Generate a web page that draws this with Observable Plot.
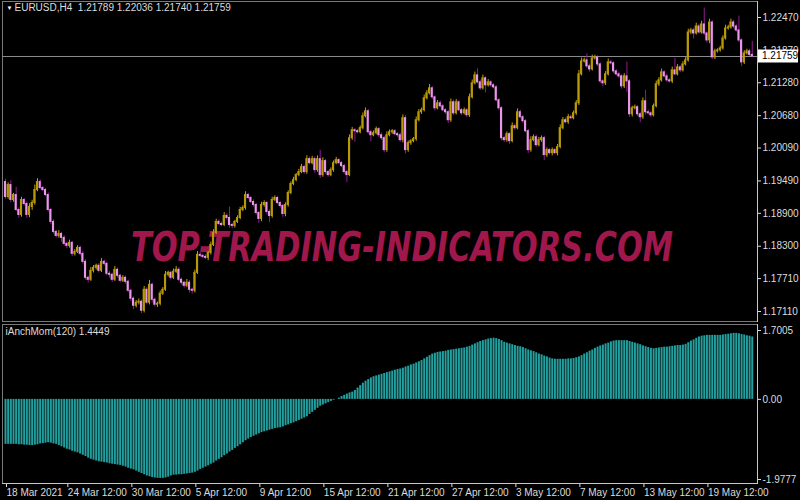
<!DOCTYPE html>
<html><head><meta charset="utf-8">
<script src="https://cdn.jsdelivr.net/npm/d3@7"></script>
<script src="https://cdn.jsdelivr.net/npm/@observablehq/plot@0.6"></script>
<style>
html,body{margin:0;padding:0;background:#000;width:800px;height:500px;overflow:hidden}
#chart{position:relative;width:800px;height:500px;background:#000}
#chart svg{position:absolute;left:0}
</style></head><body><div id="chart"></div>
<script>
// ---------- data ----------
const symbol = "EURUSD,H4";
const lastOHLC = [1.21789, 1.22036, 1.21740, 1.21759];
const firstOpen = 1.19470;
const closes = [
 1.19197,1.19415,1.19143,1.19234,1.18961,1.18870,1.19143,1.19070,1.18870,1.19015,
 1.19088,1.19324,1.19470,1.19361,1.19324,1.19234,1.18961,1.18743,1.18561,1.18488,
 1.18524,1.18452,1.18343,1.18306,1.18361,1.18161,1.18197,1.18270,1.18161,1.18015,
 1.17724,1.17688,1.17852,1.17906,1.17943,1.17852,1.18015,1.17979,1.17797,1.17779,
 1.17688,1.17870,1.17761,1.17670,1.17724,1.17652,1.17488,1.17343,1.17215,1.17270,
 1.17288,1.17124,1.17506,1.17270,1.17597,1.17324,1.17234,1.17252,1.17434,1.17506,
 1.17779,1.17815,1.17724,1.17834,1.17870,1.17688,1.17634,1.17579,1.17634,1.17506,
 1.17488,1.17815,1.18143,1.18124,1.18106,1.18088,1.18179,1.18324,1.18543,1.18743,
 1.18706,1.18688,1.18852,1.18815,1.18688,1.18670,1.18743,1.18815,1.18961,1.18997,
 1.19234,1.19179,1.19106,1.19052,1.18906,1.18797,1.19052,1.19088,1.18924,1.18852,
 1.19143,1.19179,1.19088,1.19034,1.18888,1.19052,1.19270,1.19434,1.19506,1.19597,
 1.19652,1.19743,1.19652,1.19888,1.19815,1.19888,1.19688,1.19888,1.19597,1.19852,
 1.19652,1.19597,1.19688,1.19815,1.19870,1.19815,1.19761,1.19652,1.19597,1.20270,
 1.20415,1.20397,1.20379,1.20452,1.20670,1.20761,1.20379,1.20324,1.20361,1.20434,
 1.20324,1.20270,1.20052,1.20324,1.20379,1.20397,1.20343,1.20324,1.20234,1.20634,
 1.20052,1.20179,1.20215,1.20252,1.20597,1.20743,1.20779,1.20997,1.21088,1.21179,
 1.21015,1.20815,1.20906,1.20852,1.20779,1.20743,1.20597,1.20924,1.20724,1.20924,
 1.20779,1.20724,1.20779,1.20688,1.21015,1.21270,1.21415,1.21288,1.21179,1.21361,
 1.21234,1.21288,1.21234,1.21197,1.20961,1.20815,1.20270,1.20234,1.20343,1.20215,
 1.20488,1.20452,1.20743,1.20652,1.20579,1.20397,1.20052,1.20234,1.20288,1.20143,
 1.20234,1.20270,1.19961,1.20052,1.19997,1.20052,1.19997,1.20106,1.20452,1.20597,
 1.20561,1.20652,1.20634,1.20724,1.20906,1.21434,1.21670,1.21688,1.21579,1.21524,
 1.21724,1.21743,1.21615,1.21306,1.21270,1.21434,1.21652,1.21634,1.21488,1.21434,
 1.21397,1.21215,1.21397,1.21306,1.20706,1.20815,1.20834,1.20706,1.20652,1.20943,
 1.20743,1.20724,1.20688,1.20852,1.21252,1.21324,1.21470,1.21397,1.21324,1.21306,
 1.21506,1.21434,1.21561,1.21506,1.21615,1.21688,1.22197,1.22234,1.22179,1.22306,
 1.22197,1.22343,1.22179,1.22052,1.22379,1.21743,1.21852,1.21870,1.21906,1.22088,
 1.22270,1.22288,1.22379,1.22306,1.22234,1.22052,1.21652,1.21815,1.21852,1.21789,
 1.21759];
// upper / lower wick lengths in pips, read from the candles
const wickUp = [
 5,4,8,3,14,4,5,3,4,6, 5,9,6,4,3,3,4,3,4,3, 6,3,4,3,5,3,4,4,3,4, 4,3,6,4,3,4,6,3,3,4,
 3,6,3,3,4,3,3,3,3,4, 5,3,6,4,8,3,3,3,5,4, 6,3,3,5,6,4,3,3,6,4, 3,5,6,4,3,4,3,5,6,5,
 4,3,6,4,20,3,3,4,5,4, 6,3,3,4,3,3,5,4,3,4, 5,4,3,3,3,4,4,4,5,3, 5,5,3,6,4,5,4,6,16,6,
 3,3,4,4,5,3,3,3,3,6, 5,3,3,4,6,6,3,3,4,4, 3,4,3,6,4,3,3,3,4,6, 5,4,3,3,6,5,4,6,5,7,
 3,3,5,4,3,3,3,6,4,5, 3,3,4,3,6,6,6,12,4,6, 3,5,3,3,3,3,3,3,4,3, 6,4,6,4,3,3,3,6,4,4,
 5,4,3,4,3,4,3,5,6,5, 4,5,4,4,5,7,6,4,12,4, 6,4,3,3,3,5,6,4,3,3, 4,3,5,26,3,4,4,3,3,6,
 20,4,3,4,6,5,6,3,4,3, 6,22,5,3,5,5,6,4,4,6, 4,6,30,3,6,3,4,3,4,5, 6,4,6,4,3,26,3,5,4,4,
 24.7];
const wickDn = [
 4,4,5,4,3,6,4,4,6,5, 6,4,3,3,3,3,4,5,4,4, 4,8,4,5,4,5,4,3,4,4, 4,6,3,4,4,4,3,4,4,6,
 5,3,4,4,3,4,4,5,7,4, 4,5,4,4,4,6,4,5,4,3, 3,4,4,3,3,3,4,4,3,6, 6,4,3,3,3,3,5,4,3,3,
 3,3,3,4,6,5,4,3,3,3, 4,3,3,4,4,8,5,4,5,12, 4,3,3,4,6,5,4,3,3,3, 3,3,4,4,3,3,6,4,6,4,
 4,4,3,4,3,3,3,4,14,3, 4,20,3,3,3,3,4,12,3,3, 4,4,5,4,3,4,3,4,4,5, 7,4,4,3,4,3,4,3,3,3,
 4,5,3,3,3,4,6,4,4,3, 3,4,3,4,4,3,3,3,4,3, 14,3,4,3,3,4,5,4,4,6, 3,4,3,3,4,3,6,4,3,4,
 3,4,10,4,3,5,3,5,3,3, 3,4,3,3,4,4,3,3,4,5, 3,3,4,4,6,4,3,3,4,3, 4,5,4,20,6,5,3,4,10,4,
 5,3,4,3,3,4,3,3,4,3, 4,3,3,4,3,3,3,4,10,3, 3,3,4,5,6,4,4,3,3,3, 3,3,3,4,3,4,8,4,3,3,
 1.9];
const momentum = [
 -1.11,-1.11,-1.11,-1.11,-1.11,-1.12,-1.12,-1.13,-1.13,-1.14,
 -1.14,-1.13,-1.12,-1.10,-1.09,-1.08,-1.07,-1.08,-1.10,-1.11,
 -1.14,-1.17,-1.20,-1.23,-1.25,-1.28,-1.30,-1.32,-1.35,-1.38,
 -1.41,-1.45,-1.48,-1.50,-1.52,-1.54,-1.55,-1.56,-1.57,-1.59,
 -1.60,-1.61,-1.62,-1.63,-1.65,-1.67,-1.70,-1.72,-1.74,-1.77,
 -1.80,-1.83,-1.86,-1.89,-1.91,-1.93,-1.94,-1.95,-1.95,-1.95,
 -1.94,-1.92,-1.89,-1.87,-1.87,-1.86,-1.86,-1.85,-1.84,-1.83,
 -1.82,-1.80,-1.77,-1.73,-1.70,-1.67,-1.64,-1.60,-1.57,-1.52,
 -1.48,-1.44,-1.39,-1.35,-1.30,-1.26,-1.21,-1.17,-1.12,-1.07,
 -1.02,-0.98,-0.94,-0.91,-0.88,-0.85,-0.82,-0.80,-0.78,-0.76,
 -0.74,-0.72,-0.71,-0.70,-0.68,-0.65,-0.63,-0.60,-0.58,-0.55,
 -0.52,-0.49,-0.46,-0.43,-0.37,-0.32,-0.27,-0.22,-0.17,-0.14,
 -0.11,-0.08,-0.05,-0.02,0.00,0.03,0.07,0.10,0.13,0.16,
 0.18,0.22,0.28,0.34,0.40,0.45,0.49,0.53,0.56,0.58,
 0.60,0.62,0.64,0.66,0.68,0.70,0.72,0.74,0.75,0.77,
 0.80,0.82,0.85,0.87,0.90,0.93,0.96,1.00,1.04,1.08,
 1.12,1.14,1.16,1.17,1.18,1.19,1.21,1.22,1.23,1.24,
 1.25,1.26,1.27,1.29,1.31,1.34,1.37,1.40,1.43,1.45,
 1.47,1.49,1.50,1.51,1.50,1.48,1.45,1.41,1.39,1.37,
 1.35,1.33,1.31,1.30,1.28,1.25,1.22,1.20,1.18,1.15,
 1.12,1.10,1.07,1.05,1.02,1.00,0.99,0.99,0.99,0.99,
 0.99,1.00,1.00,1.01,1.03,1.05,1.08,1.12,1.15,1.19,
 1.22,1.26,1.29,1.32,1.34,1.37,1.39,1.42,1.44,1.45,
 1.45,1.45,1.45,1.45,1.43,1.41,1.39,1.37,1.35,1.32,
 1.30,1.28,1.26,1.25,1.26,1.27,1.28,1.29,1.29,1.30,
 1.31,1.32,1.33,1.33,1.34,1.36,1.40,1.44,1.47,1.51,
 1.54,1.56,1.57,1.58,1.58,1.58,1.58,1.58,1.58,1.59,
 1.60,1.61,1.62,1.63,1.63,1.62,1.60,1.59,1.57,1.56,
 1.54];
const priceTicks = [1.2247, 1.2187, 1.2128, 1.2068, 1.2009, 1.1949, 1.1890, 1.1830, 1.1771, 1.1711];
const momTicks = [1.7005, 0, -1.9777];
const momTickLabels = ["1.7005", "0.00", "-1.9777"];
const timeLabels = ["18 Mar 2021","24 Mar 12:00","30 Mar 12:00","5 Apr 12:00","9 Apr 12:00","15 Apr 12:00",
  "21 Apr 12:00","27 Apr 12:00","3 May 12:00","7 May 12:00","13 May 12:00","19 May 12:00"];
const timeLabelBars = [0,23,47,71,95,119,143,167,191,215,239,263];
const indicatorName = "iAnchMom(120)";
const indicatorValue = "1.4449";
const watermark = "TOP-TRADING-INDICATORS.COM";

// ---------- build ----------
const N = closes.length;
const bars = closes.map((c, i) => {
  const o = i === 0 ? firstOpen : closes[i - 1];
  return {i, o, c, h: Math.max(o, c) + wickUp[i] * 1e-4, l: Math.min(o, c) - wickDn[i] * 1e-4, up: c >= o};
});
const bull = bars.filter(d => d.up), bear = bars.filter(d => !d.up);
const header = symbol + "\u00a0\u00a0" + lastOHLC.map(v => v.toFixed(5)).join(" ");
const font = "'Liberation Sans Narrow', 'Arial Narrow', 'Liberation Sans', sans-serif";
const fs = 10;
const xOpt = {domain: [0, N - 1], range: [5, 5 + (N - 1) * 2.667], axis: null};
const grey = "#7a7a7a", light = "#c8c8c8", txt = "#dcdcdc";

const pricePlot = Plot.plot({
  width: 800, height: 322,
  marginLeft: 2, marginRight: 43, marginTop: 1, marginBottom: 1,
  style: {background: "#000", color: txt, fontFamily: font, fontSize: fs + "px", overflow: "visible"},
  x: xOpt,
  y: {domain: [1.1711, 1.2247], range: [311, 17], axis: null},
  marks: [
    Plot.frame({stroke: grey}),
    Plot.text([watermark], {frameAnchor: "middle", dx: 22, dy: 87, fill: "#a0174c", fontSize: 40,
      fontWeight: "bold", fontStyle: "italic", fontFamily: "'DejaVu Sans', sans-serif"}),
    Plot.ruleY([closes[N - 1]], {stroke: "#8c8c8c"}),
    Plot.ruleX(bull, {x: "i", y1: "l", y2: "h", stroke: "#c2a300", strokeWidth: 1}),
    Plot.ruleX(bear, {x: "i", y1: "l", y2: "h", stroke: "#8e1c8e", strokeWidth: 1}),
    Plot.rect(bull, {x1: d => d.i - 0.4, x2: d => d.i + 0.4, y1: "o", y2: "c", fill: "#b89a06", insetTop: -0.5, insetBottom: -0.5}),
    Plot.rect(bear, {x1: d => d.i - 0.4, x2: d => d.i + 0.4, y1: "o", y2: "c", fill: "#e898e8", insetTop: -0.5, insetBottom: -0.5}),
    Plot.axisY(priceTicks, {anchor: "right", tickSize: 3, tickPadding: 2, tickFormat: d => d.toFixed(5), fontSize: fs, fill: txt}),
    Plot.frame({anchor: "right", stroke: light}),
    Plot.text(["\u25BC"], {frameAnchor: "top-left", dx: 4, dy: 4, fontSize: 6, fill: "#ffffff"}),
    Plot.text([header], {frameAnchor: "top-left", dx: 12, dy: 2, fontSize: fs, fill: txt})
  ]
});
const momPlot = Plot.plot({
  width: 800, height: 178,
  marginLeft: 2, marginRight: 43, marginTop: 2, marginBottom: 17,
  style: {background: "#000", color: txt, fontFamily: font, fontSize: fs + "px", overflow: "visible"},
  x: xOpt,
  y: {domain: [-1.9777, 1.7005], range: [157, 8], axis: null},
  marks: [
    Plot.frame({stroke: grey}),
    Plot.ruleX(momentum, {x: (d, i) => i, y1: 0, y2: d => d, stroke: "#22a0a0", strokeWidth: 2}),
    Plot.axisY(momTicks, {anchor: "right", tickSize: 3, tickPadding: 2, tickFormat: d => momTickLabels[momTicks.indexOf(d)], fontSize: fs, fill: txt}),
    Plot.axisX(timeLabelBars, {anchor: "bottom", tickSize: 4, tickPadding: 1, textAnchor: "start", dx: 1,
      tickFormat: d => timeLabels[timeLabelBars.indexOf(d)], fontSize: fs, fill: txt}),
    Plot.frame({anchor: "right", stroke: light}),
    Plot.frame({anchor: "bottom", stroke: light}),
    Plot.text([indicatorName + " " + indicatorValue], {frameAnchor: "top-left", dx: 3, dy: 3, fontSize: fs, fill: txt})
  ]
});
pricePlot.style.top = "0px";
momPlot.style.top = "322px";
const chart = document.getElementById("chart");
chart.append(pricePlot, momPlot);

// watermark compression
d3.select(pricePlot).selectAll("text").filter(function () { return this.textContent === watermark; })
  .attr("textLength", 542).attr("lengthAdjust", "spacingAndGlyphs");

// current price box on the right axis
const ys = pricePlot.scale("y");
const yLast = ys.apply(closes[N - 1]);
const g = d3.select(pricePlot).append("g");
g.append("rect").attr("x", 758).attr("y", yLast - 6.5).attr("width", 40).attr("height", 13).attr("fill", "#ffffff");
g.append("text").attr("x", 762).attr("y", yLast + 3.5).attr("fill", "#000").attr("font-size", fs)
  .attr("text-anchor", "start").attr("font-family", font).text(closes[N - 1].toFixed(5));
</script></body></html>
